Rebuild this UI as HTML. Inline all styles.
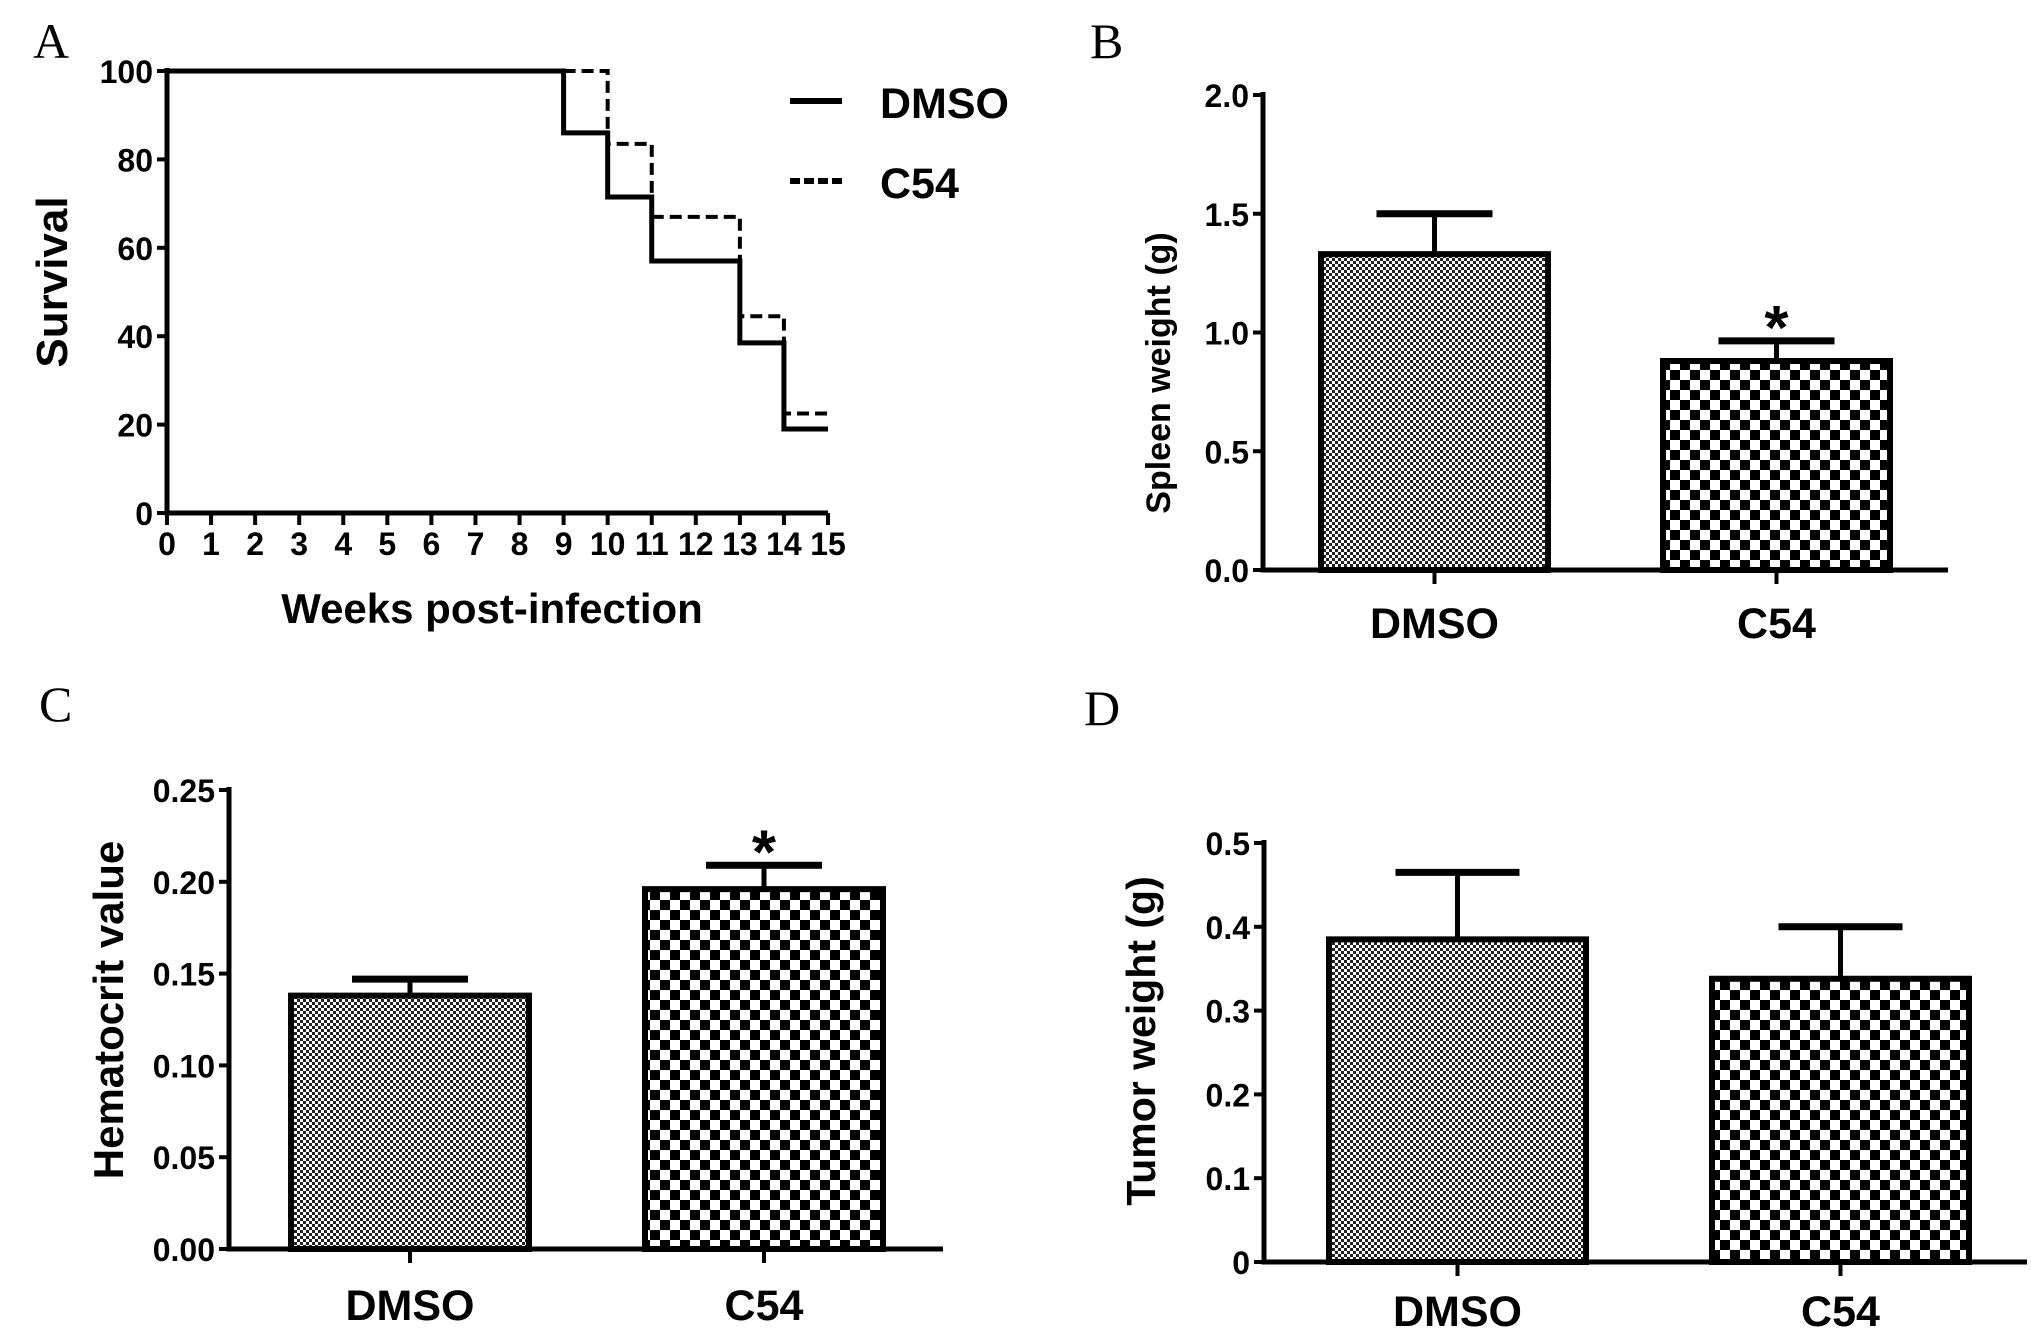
<!DOCTYPE html>
<html><head><meta charset="utf-8">
<style>
html,body{margin:0;padding:0;background:#fff;overflow:hidden;}
svg{display:block;}
.tk{font-family:"Liberation Sans Narrow","Liberation Sans",sans-serif;font-weight:bold;font-size:32px;}
.cat{font-family:"Liberation Sans Narrow","Liberation Sans",sans-serif;font-weight:bold;font-size:43px;}
.ttl{font-family:"Liberation Sans",sans-serif;font-weight:bold;}
.pl{font-family:"Liberation Serif",serif;font-size:50px;}
</style></head>
<body>
<svg id="fig" width="2031" height="1335" viewBox="0 0 2031 1335" xmlns="http://www.w3.org/2000/svg">
<defs>
<pattern id="fine" width="6" height="6" patternUnits="userSpaceOnUse">
<rect width="6" height="6" fill="#fff"/><rect width="3" height="3" fill="#222"/><rect x="3" y="3" width="3" height="3" fill="#222"/>
</pattern>
<pattern id="coarse" width="20" height="20" patternUnits="userSpaceOnUse">
<rect width="20" height="20" fill="#fff"/><rect width="10" height="10" fill="#000"/><rect x="10" y="10" width="10" height="10" fill="#000"/>
</pattern>
</defs>
</svg>
<script>
// Panel A data
const weeks = [0,1,2,3,4,5,6,7,8,9,10,11,12,13,14,15];
const survTicks = [0,20,40,60,80,100];
const dmsoStepX = [0,9,10,11,13,14,15];
const dmsoStepY = [100,86,71.5,57,38.5,19,19];
const c54StepX = [9,10,11,13,14,15];
const c54StepY = [100,83.5,67,44.5,22.5,22.5];
// Panel B
const catsB = ["DMSO","C54"];
const spleenMean = [1.33,0.88];
const spleenErr = [1.50,0.965];
const spleenTicks = ["0.0","0.5","1.0","1.5","2.0"];
// Panel C
const hemMean = [0.138,0.196];
const hemErr = [0.147,0.209];
const hemTicks = ["0.00","0.05","0.10","0.15","0.20","0.25"];
// Panel D
const tumMean = [0.385,0.338];
const tumErr = [0.465,0.40];
const tumTicks = ["0","0.1","0.2","0.3","0.4","0.5"];

const NS="http://www.w3.org/2000/svg";
const svg=document.getElementById('fig');
function mk(tag,attrs,parent){const e=document.createElementNS(NS,tag);for(const k in attrs)e.setAttribute(k,attrs[k]);(parent||svg).appendChild(e);return e;}
function txt(s,attrs,parent){const e=mk('text',attrs,parent);e.textContent=s;return e;}

// ---------- Panel A ----------
const gA=mk('g',{});


const ax0=167,ax1=828,ay0=513,ay1=71;
const xA=v=>ax0+(v-0)/15*(ax1-ax0);
const yA=v=>ay0-(v/100)*(ay0-ay1);
let l=txt('A',{x:33,y:58,class:'pl'},gA);

let a=mk('path',{d:`M${ax0},${ay1-3}V${ay0}H${ax1}`,stroke:'#000','stroke-width':5,fill:'none'},gA);

survTicks.forEach(v=>{
  const t=mk('line',{x1:ax0-10,x2:ax0,y1:yA(v),y2:yA(v),stroke:'#000','stroke-width':4},gA);
  
  const tl=txt(String(v),{x:ax0-14,y:yA(v)+12,'text-anchor':'end',class:'tk'},gA);
  
});
weeks.forEach(v=>{
  const t=mk('line',{x1:xA(v),x2:xA(v),y1:ay0,y2:ay0+12,stroke:'#000','stroke-width':4},gA);
  
  const tl=txt(String(v),{x:xA(v),y:555,'text-anchor':'middle',class:'tk'},gA);
  
});
function stepPath(xs,ys){let d=`M${xA(xs[0])},${yA(ys[0])}`;for(let i=1;i<xs.length;i++){d+=`H${xA(xs[i])}`;if(i<ys.length)d+=`V${yA(ys[i])}`;}return d;}
let pc=mk('path',{d:stepPath(c54StepX,c54StepY),stroke:'#000','stroke-width':4,fill:'none','stroke-dasharray':'12,6'},gA);

let pd=mk('path',{d:stepPath(dmsoStepX,dmsoStepY),stroke:'#000','stroke-width':5,fill:'none'},gA);

let le=mk('g',{},gA);
mk('line',{x1:790,x2:842,y1:101,y2:101,stroke:'#000','stroke-width':6},le);
txt('DMSO',{x:880,y:118,class:'cat'},le);
mk('line',{x1:790,x2:842,y1:181,y2:181,stroke:'#000','stroke-width':6,'stroke-dasharray':'10,4'},le);
txt('C54',{x:880,y:198,class:'cat'},le);
let tA=txt('Survival',{x:0,y:0,'text-anchor':'middle',class:'ttl',style:'font-size:44px',transform:`translate(67,282) rotate(-90)`},gA);

let xt=txt('Weeks post-infection',{x:492,y:623,'text-anchor':'middle',class:'ttl',style:'font-size:42px'},gA);


// ---------- Bar panels ----------
function barPanel(cfg){
  const g=mk('g',{});
  
  
  const y=v=>cfg.y0-(v-cfg.vmin)/(cfg.vmax-cfg.vmin)*(cfg.y0-cfg.y1);
  const pl=txt(cfg.letter,{x:cfg.lx,y:cfg.ly,class:'pl'},g);
  
  cfg.ticks.forEach(t=>{
    const v=parseFloat(t);
    const tk=mk('line',{x1:cfg.ax-10,x2:cfg.ax,y1:y(v),y2:y(v),stroke:'#000','stroke-width':4},g);
    
    const tl=txt(t,{x:cfg.ax-14,y:y(v)+12,'text-anchor':'end',class:'tk'},g);
    
  });
  cfg.means.forEach((m,i)=>{
    const bx=cfg.bx[i],bw=cfg.bw;
    const cx=bx+bw/2;
    const e=mk('line',{x1:cx,x2:cx,y1:y(m),y2:y(cfg.errs[i]),stroke:'#000','stroke-width':5},g);
    
    const c=mk('line',{x1:cx-cfg.cap,x2:cx+cfg.cap,y1:y(cfg.errs[i]),y2:y(cfg.errs[i]),stroke:'#000','stroke-width':7},g);
    
    const r=mk('rect',{x:bx,y:y(m),width:bw,height:y(cfg.vmin)-y(m),fill:i==0?'url(#fine)':'url(#coarse)',stroke:'#000','stroke-width':6},g);
    
    const tk=mk('line',{x1:cx,x2:cx,y1:cfg.y0,y2:cfg.y0+14,stroke:'#000','stroke-width':4},g);
    
    const cl=txt(cfg.cats[i],{x:cx,y:cfg.catY,'text-anchor':'middle',class:'cat'},g);
    
    if(cfg.star[i]){
      const s=txt('*',{x:cx,y:y(cfg.errs[i])+8,'text-anchor':'middle',class:'ttl',style:'font-size:62px'},g);
      
    }
  });
  const axes=mk('path',{d:`M${cfg.ax},${cfg.y1-3}V${cfg.y0}H${cfg.axEnd}`,stroke:'#000','stroke-width':5,fill:'none'},g);
  
  const yt=txt(cfg.title,{x:0,y:0,'text-anchor':'middle',class:'ttl',style:'font-size:'+cfg.tfs+'px',transform:`translate(${cfg.tx},${cfg.ty}) rotate(-90)`},g);
  
}
barPanel({name:'panel-b-spleen',letter:'B',lx:1090,ly:58,ax:1263,y0:570,y1:95,vmin:0,vmax:2,axEnd:1948,
  ticks:spleenTicks,means:spleenMean,errs:spleenErr,cats:catsB,bx:[1321,1663],bw:227,cap:58,catY:638,star:[false,true],
  title:'Spleen weight (g)',tfs:34,tx:1170,ty:373});
barPanel({name:'panel-c-hematocrit',letter:'C',lx:39,ly:721,ax:229,y0:1249,y1:790,vmin:0,vmax:0.25,axEnd:943,
  ticks:hemTicks,means:hemMean,errs:hemErr,cats:catsB,bx:[291,645],bw:238,cap:58,catY:1320,star:[false,true],
  title:'Hematocrit value',tfs:42,tx:123,ty:1010});
barPanel({name:'panel-d-tumor',letter:'D',lx:1084,ly:725,ax:1264,y0:1262,y1:843,vmin:0,vmax:0.5,axEnd:2027,
  ticks:tumTicks,means:tumMean,errs:tumErr,cats:catsB,bx:[1329,1712],bw:257,cap:62,catY:1326,star:[false,false],
  title:'Tumor weight (g)',tfs:41,tx:1155,ty:1041});
</script>
</body></html>
